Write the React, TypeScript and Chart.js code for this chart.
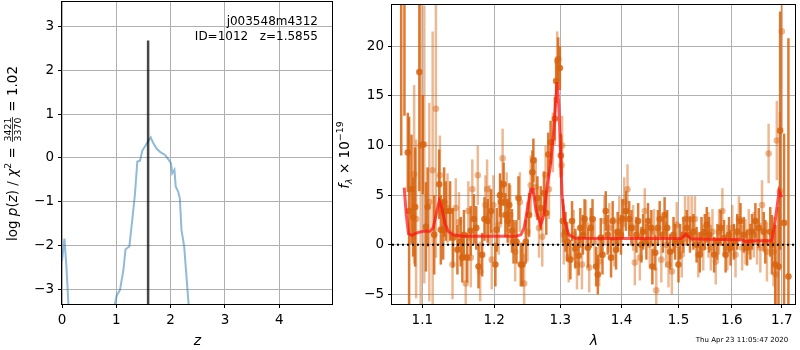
import React, { useEffect, useRef } from 'react';
import { Chart, registerables } from 'chart.js';

Chart.register(...registerables);

const FONT = "'DejaVu Sans', sans-serif";

// ---------- Left panel: redshift probability ----------
const pzZ = [0.0, 0.045, 0.085, 0.118, 0.13, 0.5, 0.96, 0.976, 1.007, 1.068, 1.13, 1.17, 1.24, 1.3, 1.344, 1.387, 1.436, 1.48, 1.547, 1.596, 1.633, 1.68, 1.744, 1.805, 1.897, 1.958, 2.007, 2.03, 2.07, 2.094, 2.14, 2.17, 2.2, 2.25, 2.33, 2.35];
const pzLogP = [-2.35, -1.84, -2.55, -3.34, -3.9, null, -3.9, -3.32, -3.14, -3.01, -2.56, -2.08, -2.02, -1.34, -0.81, -0.08, -0.06, 0.17, 0.3, 0.4, 0.47, 0.34, 0.21, 0.14, 0.07, -0.03, -0.12, -0.35, -0.27, -0.65, -0.77, -0.92, -1.64, -2.02, -3.32, -3.6];
const zBest = 1.5855;
const zLineFrom = -3.4;
const zLineTo = 2.68;
const zTicks = [0, 1, 2, 3, 4];
const logpTicks = [-3, -2, -1, 0, 1, 2, 3];
const zMin = 0, zMax = 4.99, logpMin = -3.33, logpMax = 3.58;

// ---------- Right panel: spectrum ----------
const darkLam = [1.0722, 1.0764, 1.0808, 1.0825, 1.0856, 1.0878, 1.0904, 1.0960, 1.1005, 1.1048, 1.1070, 1.1159, 1.1227, 1.1249, 1.1281, 1.1294, 1.1317, 1.1376, 1.1417, 1.1477, 1.1523, 1.1546, 1.1568, 1.1615, 1.1662, 1.1708, 1.1742, 1.1774, 1.1826, 1.1859, 1.1906, 1.1955, 1.2017, 1.2036, 1.2085, 1.2100, 1.2138, 1.2163, 1.2197, 1.2221, 1.2261, 1.2284, 1.2328, 1.2358, 1.2393, 1.2418, 1.2468, 1.2518, 1.2568, 1.2583, 1.2644, 1.2695, 1.2745, 1.2781, 1.2812, 1.2848, 1.2915, 1.2935, 1.2966, 1.2993, 1.3008, 1.3040, 1.3082, 1.3107, 1.3160, 1.3186, 1.3239, 1.3292, 1.3319, 1.3361, 1.3388, 1.3441, 1.3489, 1.3517, 1.3577, 1.3604, 1.3653, 1.3681, 1.3735, 1.3768, 1.3824, 1.3851, 1.3908, 1.3935, 1.3991, 1.4018, 1.4075, 1.4131, 1.4170, 1.4256, 1.4285, 1.4342, 1.4371, 1.4428, 1.4457, 1.4515, 1.4533, 1.4585, 1.4632, 1.4662, 1.4720, 1.4750, 1.4796, 1.4849, 1.4910, 1.4939, 1.5000, 1.5029, 1.5091, 1.5151, 1.5211, 1.5273, 1.5333, 1.5393, 1.5424, 1.5486, 1.5523, 1.5568, 1.5662, 1.5724, 1.5787, 1.5851, 1.5881, 1.5946, 1.5977, 1.6042, 1.6106, 1.6170, 1.6236, 1.6300, 1.6365, 1.6398, 1.6464, 1.6531, 1.6631, 1.6663, 1.6763, 1.6797, 1.6864, 1.6932, 1.6965, 1.7046, 1.7136];
const darkFlux = [30.0, 28.0, 9.3, 3.4, 5.6, 2.8, 3.8, 17.4, 10.1, 1.8, 3.8, 1.0, 6.1, 1.5, 1.5, 4.3, 3.4, 3.4, 0.7, -0.5, 0.3, -1.3, 1.0, -1.3, 1.4, 2.6, 1.7, -2.2, -1.0, 2.6, 2.4, 3.4, -2.0, 1.5, 5.0, 4.3, 6.1, 3.0, 2.4, 4.0, 1.4, 0.3, 0.3, 4.7, -2.0, -2.0, 0.3, 3.0, 7.3, 8.5, 4.7, 3.7, 5.2, 3.2, 9.1, 10.3, 12.7, 16.5, 18.7, 17.8, 9.0, 2.4, 1.3, 0.3, -1.5, 2.4, -0.4, -1.1, 1.7, 1.0, 2.6, -0.3, 1.7, 2.6, -2.2, -3.0, 0.7, -1.0, 3.4, 1.0, -1.3, 2.4, -0.5, 1.3, 1.0, 2.6, 3.4, 2.6, 1.7, 1.0, 2.4, 0.0, 1.3, 0.3, 2.4, 1.7, -2.2, -0.8, 1.7, 2.6, 1.0, 3.0, 1.7, -0.7, 1.0, 0.3, -2.0, 0.3, 1.0, 1.7, 1.0, 1.3, 0.0, -1.0, 1.0, 1.3, 2.0, 1.0, -1.0, 0.3, 1.7, 0.7, -1.0, 1.0, -0.3, 0.3, 1.3, 2.4, 1.0, -0.3, 0.3, 1.3, 2.4, 1.7, 1.3, 0.3, 1.3, 0.0, -2.0, -2.2, 11.5, 2.2, -3.2];
const darkErr = [21, 15, 4, 9.5, 5.5, 4, 6, 12, 5, 4.5, 4, 4, 3.5, 3.5, 3, 3.5, 3, 3, 3, 2.5, 2.5, 2.5, 2.5, 2.5, 2.5, 2.5, 2.2, 2.2, 2.2, 2.2, 2.2, 2.2, 2.2, 2.2, 2.2, 2.2, 2.2, 2.2, 2.2, 2.2, 2.2, 2.2, 2.2, 2.2, 2.2, 2.2, 2.2, 2.2, 2.2, 2.2, 2.2, 2.2, 2.2, 2.2, 2.2, 2.2, 2.2, 2.2, 2.2, 2.2, 2.2, 2.2, 2.0, 2.0, 2.0, 2.0, 2.0, 2.0, 2.0, 2.0, 2.0, 2.0, 2.0, 2.0, 2.0, 2.0, 2.0, 2.0, 2.0, 2.0, 2.0, 2.0, 2.0, 2.0, 2.0, 2.0, 2.0, 1.8, 1.8, 1.8, 1.8, 1.8, 1.8, 1.8, 1.8, 1.8, 1.8, 1.8, 1.8, 1.8, 1.8, 1.8, 1.8, 1.8, 1.8, 1.8, 1.8, 1.8, 1.8, 1.8, 1.8, 1.8, 1.8, 1.8, 1.8, 1.8, 1.8, 1.8, 1.8, 1.8, 1.8, 1.8, 1.8, 1.8, 1.8, 1.8, 1.8, 1.8, 1.8, 1.8, 1.8, 1.8, 1.8, 2.0, 2.0, 2.2, 2.5, 3, 4, 6, 12, 9, 24];

const lightLam = [1.0891, 1.0917, 1.0978, 1.1026, 1.1093, 1.1138, 1.1182, 1.1236, 1.1340, 1.1409, 1.1454, 1.1499, 1.1593, 1.1630, 1.1665, 1.1686, 1.1764, 1.1798, 1.1873, 1.1897, 1.1931, 1.1964, 1.1988, 1.2065, 1.2123, 1.2182, 1.2236, 1.2309, 1.2379, 1.2443, 1.2493, 1.2543, 1.2619, 1.2669, 1.2719, 1.2771, 1.2822, 1.2884, 1.2951, 1.3019, 1.3028, 1.3055, 1.3133, 1.3212, 1.3265, 1.3345, 1.3410, 1.3463, 1.3550, 1.3626, 1.3713, 1.3795, 1.3879, 1.3963, 1.4047, 1.4102, 1.4199, 1.4228, 1.4314, 1.4400, 1.4487, 1.4562, 1.4602, 1.4691, 1.4778, 1.4820, 1.4880, 1.4969, 1.5060, 1.5120, 1.5181, 1.5241, 1.5302, 1.5364, 1.5457, 1.5555, 1.5599, 1.5630, 1.5693, 1.5756, 1.5819, 1.5914, 1.6010, 1.6073, 1.6139, 1.6203, 1.6267, 1.6333, 1.6431, 1.6497, 1.6563, 1.6597, 1.6696, 1.6730, 1.6830, 1.6877, 1.6897, 1.6958, 1.6999];
const lightFlux = [7.1, 2.6, 10.0, 10.1, 4.3, 7.5, 13.7, 7.0, 3.7, -2.0, 3.7, 2.3, -3.9, 3.4, -1.3, 5.6, 7.0, -2.7, 4.0, 5.6, 3.0, -1.5, 4.0, 2.0, 8.7, 4.3, 3.0, -0.7, 4.3, -3.9, 1.3, 6.0, 5.8, 1.7, 0.8, 7.0, 5.6, 10.3, 18.5, 8.0, 10.0, 1.0, -1.3, 1.0, -2.0, -2.0, 2.0, -2.3, 0.3, -1.7, 2.4, 1.7, 0.3, 2.4, 4.3, 5.6, 1.7, -1.8, -1.3, 3.4, 0.0, 1.3, -4.6, -1.5, 0.0, -2.0, -2.7, 2.0, -1.0, 2.6, 2.6, 2.6, 2.6, -1.0, -0.3, 1.0, -0.3, 1.3, -1.7, 1.3, 3.4, -0.3, 1.7, -1.0, 2.6, -0.3, 0.3, 1.3, 1.0, 0.3, -0.3, 4.0, -0.7, 9.2, -0.7, -3.0, 10.5, 5.4, 21.5];
const lightErr = [9, 8, 16, 14, 10, 14, 15, 4, 3.5, 3.5, 3, 3, 3, 3, 3, 3, 3, 3, 3, 3, 3, 3, 3, 3, 3, 3, 3, 3, 3, 3, 3, 3, 3, 3, 3, 3, 3, 3, 3, 3, 3, 3, 2.5, 2.5, 2.5, 2.5, 2.5, 2.5, 2.5, 2.5, 2.5, 2.5, 2.5, 2.5, 2.5, 2.5, 2.3, 2.3, 2.3, 2.3, 2.3, 2.3, 2.3, 2.3, 2.3, 2.3, 2.3, 2.3, 2.3, 2.3, 2.3, 2.3, 2.3, 2.3, 2.3, 2.3, 2.3, 2.3, 2.3, 2.3, 2.3, 2.3, 2.3, 2.3, 2.3, 2.3, 2.3, 2.3, 2.3, 2.3, 2.5, 2.5, 3, 3, 3.5, 5, 4, 8, 10];

const modelLam = [1.0761, 1.0787, 1.0817, 1.0861, 1.0926, 1.1013, 1.1102, 1.1146, 1.1192, 1.1227, 1.1259, 1.1304, 1.1349, 1.1417, 1.1555, 1.1931, 1.2319, 1.2393, 1.2443, 1.2492, 1.2543, 1.2578, 1.2619, 1.2695, 1.2745, 1.2795, 1.2848, 1.2899, 1.2950, 1.2977, 1.3003, 1.3028, 1.3070, 1.3133, 1.3239, 1.4000, 1.5046, 1.5137, 1.5228, 1.5500, 1.6200, 1.6267, 1.6400, 1.6797, 1.6863, 1.6944, 1.6999];
const modelFlux = [5.76, 3.1, 1.1, 0.95, 1.2, 1.35, 1.35, 1.7, 3.3, 4.4, 3.8, 2.2, 1.35, 1.0, 0.85, 0.85, 0.85, 1.0, 1.7, 3.6, 5.6, 5.6, 3.6, 2.0, 3.0, 6.0, 8.0, 11.7, 16.4, 14.0, 9.4, 5.0, 2.4, 1.0, 0.65, 0.62, 0.62, 1.05, 0.6, 0.55, 0.5, 0.3, 0.4, 0.4, 2.4, 5.4, 4.8];

const lamTicks = [1.1, 1.2, 1.3, 1.4, 1.5, 1.6, 1.7];
const fluxTicks = [-5, 0, 5, 10, 15, 20];
const lamMin = 1.0603, lamMax = 1.7294, fluxMin = -5.97, fluxMax = 24.26;
const zeroLevel = 0;

const fmtInt = (v: any) => (Number(v) < 0 ? '\u2212' : '') + Math.abs(Number(v));
const fmt1 = (v: any) => Number(v).toFixed(1);

function axis(type: string, min: number, max: number, ticks: number[], fmt: any, size: number, isY: boolean) {
  return {
    type, min, max,
    afterBuildTicks: (s: any) => { s.ticks = ticks.map((v) => ({ value: v })); },
    afterFit: (s: any) => {
      if (isY) s.width = size; else s.height = size;
      s.paddingTop = 0; s.paddingBottom = 0; s.paddingLeft = 0; s.paddingRight = 0;
    },
    grid: { color: '#b0b0b0', lineWidth: 1, tickColor: '#000', tickLength: 4, drawTicks: true },
    border: { display: false },
    ticks: { color: '#000', font: { family: FONT, size: 13.5 }, padding: 4, autoSkip: false, maxRotation: 0, minRotation: 0, callback: fmt },
  };
}

function drawFrame(chart: any) {
  const { ctx, chartArea: a } = chart;
  ctx.save();
  ctx.strokeStyle = '#000';
  ctx.lineWidth = 1;
  const l = Math.round(a.left) - 0.5, t = Math.round(a.top) + 0.5;
  const r = Math.round(a.right) - 0.5, b = Math.round(a.bottom) + 0.5;
  ctx.strokeRect(l, t, r - l, b - t);
  ctx.restore();
}

type Piece = { t?: string; italic?: boolean; scale?: number; dy?: number; num?: string; den?: string };

function drawPieces(ctx: CanvasRenderingContext2D, pieces: Piece[], cx: number, cy: number, fs: number, rotate: boolean) {
  ctx.save();
  ctx.translate(cx, cy);
  if (rotate) ctx.rotate(-Math.PI / 2);
  const fontOf = (p: Piece) => `${p.italic ? 'italic ' : ''}${fs * (p.scale || 1)}px ${FONT}`;
  const widths = pieces.map((p) => {
    if (p.num !== undefined) {
      ctx.font = `${fs * 0.7}px ${FONT}`;
      return Math.max(ctx.measureText(p.num).width, ctx.measureText(p.den || '').width) + 3;
    }
    ctx.font = fontOf(p);
    return ctx.measureText(p.t || '').width;
  });
  const total = widths.reduce((s, w) => s + w, 0);
  let x = -total / 2;
  ctx.fillStyle = '#000';
  ctx.textBaseline = 'alphabetic';
  pieces.forEach((p, i) => {
    const w = widths[i];
    if (p.num !== undefined) {
      const bar = -0.3 * fs;
      ctx.font = `${fs * 0.7}px ${FONT}`;
      ctx.textAlign = 'center';
      ctx.fillText(p.num, x + w / 2, bar - 0.12 * fs);
      ctx.fillText(p.den || '', x + w / 2, bar + 0.12 * fs + 0.51 * fs);
      ctx.strokeStyle = '#000';
      ctx.lineWidth = 0.8;
      ctx.beginPath();
      ctx.moveTo(x + 1, bar);
      ctx.lineTo(x + w - 1, bar);
      ctx.stroke();
      ctx.textAlign = 'left';
    } else {
      ctx.font = fontOf(p);
      ctx.textAlign = 'left';
      ctx.fillText(p.t || '', x, (p.dy || 0) * fs);
    }
    x += w;
  });
  ctx.restore();
}

const leftDecor = {
  id: 'leftDecor',
  afterDraw(chart: any) {
    const { ctx, chartArea: a } = chart;
    drawFrame(chart);
    ctx.save();
    ctx.fillStyle = '#000';
    ctx.font = `12px ${FONT}`;
    ctx.textAlign = 'right';
    ctx.fillText('j003548m4312', 318, 24.5);
    ctx.fillText('ID=1012   z=1.5855', 318, 39.5);
    ctx.restore();
    drawPieces(ctx, [
      { t: 'log ' }, { t: 'p', italic: true }, { t: '(' }, { t: 'z', italic: true }, { t: ') / ' },
      { t: '\u03c7', italic: true }, { t: '2', scale: 0.7, dy: -0.42 }, { t: ' = ' },
      { num: '3421', den: '3370' }, { t: ' = 1.02' },
    ], 16.5, (a.top + a.bottom) / 2 + 1, 13.5, true);
    drawPieces(ctx, [{ t: 'z', italic: true }], (a.left + a.right) / 2, 345, 14, false);
  },
};

const errBars = {
  id: 'errBars',
  beforeDatasetDraw(chart: any, args: any) {
    const ds = chart.data.datasets[args.index];
    if (!ds.errs) return;
    const { ctx, chartArea: a, scales } = chart;
    ctx.save();
    ctx.beginPath();
    ctx.rect(a.left, a.top, a.right - a.left, a.bottom - a.top);
    ctx.clip();
    ctx.strokeStyle = ds.errColor;
    ctx.lineWidth = ds.errWidth;
    ds.data.forEach((p: any, i: number) => {
      const px = scales.x.getPixelForValue(p.x);
      const y1 = scales.y.getPixelForValue(p.y - ds.errs[i]);
      const y2 = scales.y.getPixelForValue(p.y + ds.errs[i]);
      ctx.beginPath();
      ctx.moveTo(px, y1);
      ctx.lineTo(px, y2);
      ctx.stroke();
    });
    ctx.restore();
  },
};

const rightDecor = {
  id: 'rightDecor',
  afterDraw(chart: any) {
    const { ctx, chartArea: a } = chart;
    drawFrame(chart);
    drawPieces(ctx, [
      { t: 'f', italic: true }, { t: '\u03bb', italic: true, scale: 0.7, dy: 0.22 }, { t: ' \u00d7 10' },
      { t: '\u221219', scale: 0.7, dy: -0.42 },
    ], 14, (a.top + a.bottom) / 2 + 1, 13.5, true);
    drawPieces(ctx, [{ t: '\u03bb', italic: true }], (a.left + a.right) / 2, 345, 14, false);
    ctx.save();
    ctx.fillStyle = '#000';
    ctx.font = `7px ${FONT}`;
    ctx.textAlign = 'center';
    ctx.fillText('Thu Apr 23 11:05:47 2020', 407, 342);
    ctx.restore();
  },
};

const LEFT_W = 335;
const RIGHT_X = 335;
const RIGHT_W = 465;
const H = 350;

export default function App() {
  const leftRef = useRef<HTMLCanvasElement>(null);
  const rightRef = useRef<HTMLCanvasElement>(null);

  useEffect(() => {
    document.body.style.margin = '0';
    const c1 = new Chart(leftRef.current as HTMLCanvasElement, {
      type: 'line',
      data: {
        datasets: [
          {
            data: [{ x: zBest, y: zLineFrom }, { x: zBest, y: zLineTo }],
            borderColor: 'rgba(0,0,0,0.72)', borderWidth: 2.5, pointRadius: 0,
          } as any,
          {
            data: pzZ.map((z, i) => ({ x: z, y: pzLogP[i] })),
            borderColor: 'rgba(31,119,180,0.5)', borderWidth: 2, pointRadius: 0, spanGaps: false,
          } as any,
        ],
      },
      options: {
        animation: false, responsive: false,
        layout: { padding: { top: 1, right: 2, left: 0, bottom: 0 } },
        plugins: { legend: { display: false }, tooltip: { enabled: false } },
        scales: {
          x: axis('linear', zMin, zMax, zTicks, fmtInt, 46, false) as any,
          y: axis('linear', logpMin, logpMax, logpTicks, fmtInt, 62, true) as any,
        },
      },
      plugins: [leftDecor],
    });

    const c2 = new Chart(rightRef.current as HTMLCanvasElement, {
      type: 'line',
      data: {
        datasets: [
          {
            data: [{ x: lamMin, y: zeroLevel }, { x: lamMax, y: zeroLevel }],
            borderColor: '#000', borderWidth: 2, borderDash: [2, 3], pointRadius: 0,
          } as any,
          {
            data: modelLam.map((l, i) => ({ x: l, y: modelFlux[i] })),
            borderColor: 'rgba(255,20,20,0.72)', borderWidth: 3, pointRadius: 0,
          } as any,
          {
            data: darkLam.map((l, i) => ({ x: l, y: darkFlux[i] })),
            showLine: false, pointRadius: 3.3, pointBorderWidth: 0,
            pointBackgroundColor: 'rgba(215,100,15,0.85)',
            errs: darkErr, errColor: 'rgba(215,100,15,0.85)', errWidth: 2.5,
          } as any,
          {
            data: lightLam.map((l, i) => ({ x: l, y: lightFlux[i] })),
            showLine: false, pointRadius: 3.3, pointBorderWidth: 0,
            pointBackgroundColor: 'rgba(215,100,15,0.45)',
            errs: lightErr, errColor: 'rgba(215,100,15,0.45)', errWidth: 2.5,
          } as any,
        ],
      },
      options: {
        animation: false, responsive: false,
        layout: { padding: { top: 1, right: 1, left: 0, bottom: 0 } },
        plugins: { legend: { display: false }, tooltip: { enabled: false } },
        scales: {
          x: axis('logarithmic', lamMin, lamMax, lamTicks, fmt1, 46, false) as any,
          y: axis('linear', fluxMin, fluxMax, fluxTicks, fmtInt, 57, true) as any,
        },
      },
      plugins: [errBars, rightDecor],
    });
    return () => { c1.destroy(); c2.destroy(); };
  }, []);

  return (
    <div style={{ position: 'absolute', left: 0, top: 0, width: 800, height: H, background: '#fff' }}>
      <canvas ref={leftRef} width={LEFT_W} height={H} style={{ position: 'absolute', left: 0, top: 0, width: LEFT_W, height: H }} />
      <canvas ref={rightRef} width={RIGHT_W} height={H} style={{ position: 'absolute', left: RIGHT_X, top: 0, width: RIGHT_W, height: H }} />
    </div>
  );
}
